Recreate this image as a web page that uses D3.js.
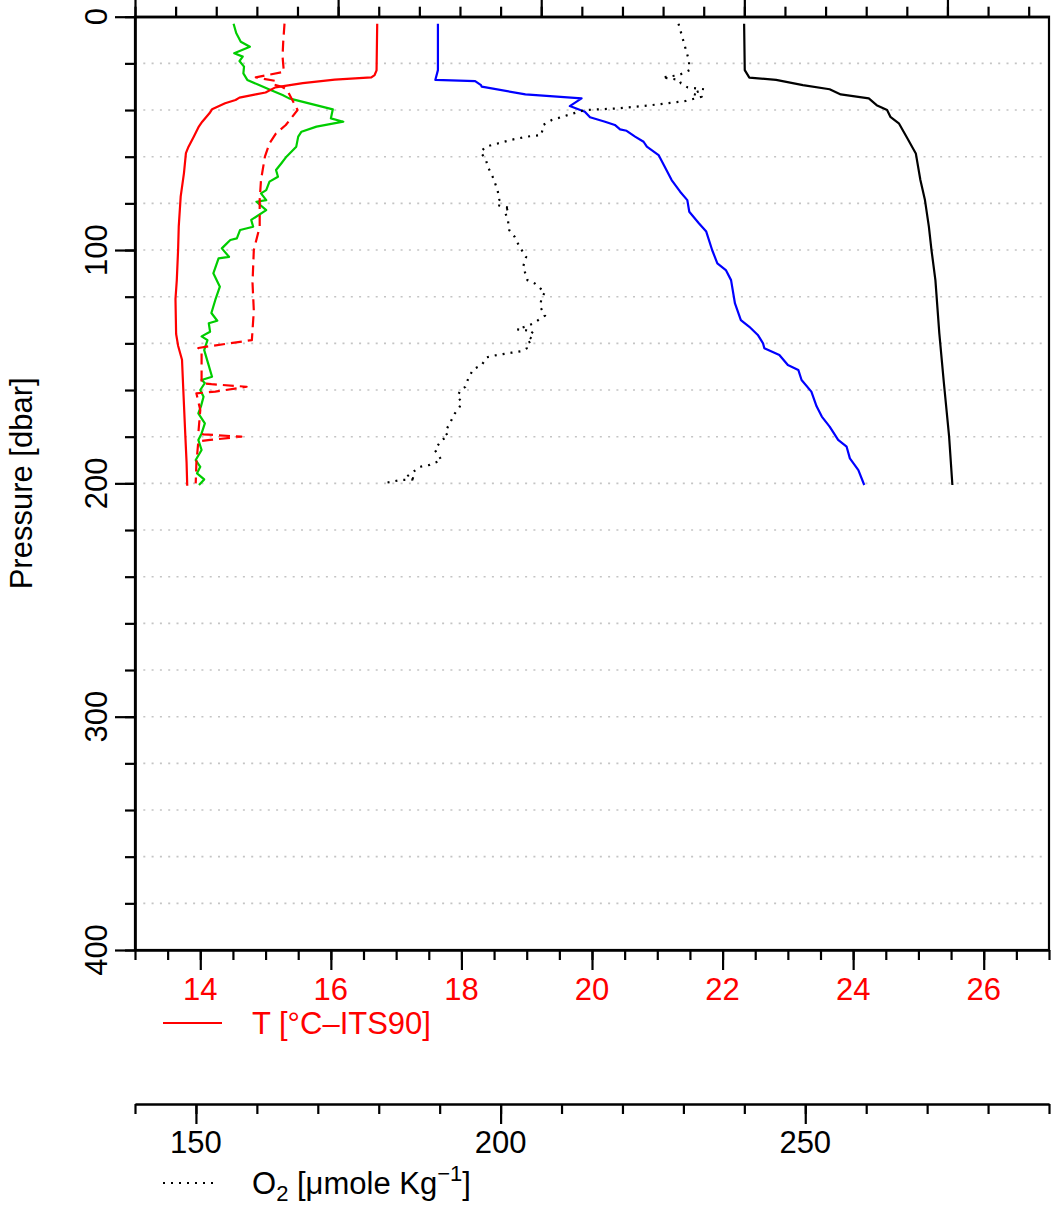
<!DOCTYPE html>
<html><head><meta charset="utf-8">
<script src="https://cdn.jsdelivr.net/npm/d3@7"></script>
<style>
html,body{margin:0;padding:0;background:#fff;}
svg{display:block;}
text{font-family:"Liberation Sans",Arial,Helvetica,sans-serif;}
</style></head>
<body>
<svg id="c" width="1061" height="1205"></svg>
<script>
// ---------- data ----------
// Temperature profile, red solid  [°C]
const tempP = [3,23,25,26,27,28.5,30.3,32.5,33.3,34.7,35.7,37.1,39.7,41.4,45,47,51.4,55.7,58.5,67,77,90,100,113,121,136,141,147,160,179,191,201];
const tempV = [16.71,16.70,16.67,16.62,16.06,15.57,15.15,15.00,14.85,14.60,14.54,14.38,14.18,14.14,14.03,13.98,13.90,13.82,13.78,13.75,13.70,13.67,13.66,13.64,13.62,13.63,13.66,13.72,13.74,13.77,13.79,13.80];
// Red dashed profile (bottom-axis units)
const dashP = [3,11,17,23.6,26,27.5,29,30,31.4,35.7,40,46.4,50,54.3,60,70,78.6,90,100,114,126,138.6,141.4,142,143,157,157.5,158.6,160.7,161.4,168.6,178.6,179,180,181.4,182,191.4,200];
const dashV = [15.29,15.27,15.26,15.28,14.85,15.15,15.12,15.25,15.33,15.41,15.49,15.31,15.16,15.06,14.99,14.93,14.91,14.91,14.82,14.80,14.82,14.79,14.10,13.97,14.02,14.02,14.17,14.71,14.23,13.94,14.00,13.97,14.05,14.63,14.15,13.97,13.94,13.93];
// Green profile (bottom-axis units)
const greenP = [3,7,10.7,12.9,15.7,17.1,19,21.4,24.3,27.1,29.3,31.1,33.6,35,39.7,43.6,45,47.1,49.3,51.4,55.7,60,62.9,65.7,68.6,70.7,74.3,75.7,78.6,79.3,82.9,87.1,90,91.4,95,95.7,97.9,99.3,102.9,103.6,110,115.7,121.4,127,130.3,131.4,135,137,138.6,142.9,148.6,154.3,155.7,157,160,162.9,167,170,174.3,178.6,181.4,185.7,190,192.9,195.7,198.3,200.7];
const greenV = [14.51,14.55,14.62,14.76,14.52,14.65,14.60,14.67,14.66,14.72,14.90,15.05,15.26,15.36,16.03,16.00,16.19,15.78,15.55,15.50,15.47,15.32,15.24,15.16,15.19,15.06,15.01,14.93,15.01,14.86,15.01,14.78,14.81,14.61,14.56,14.46,14.38,14.33,14.44,14.28,14.20,14.30,14.23,14.17,14.26,14.13,14.15,14.02,14.11,14.06,14.12,14.18,14.02,14.07,14.00,14.05,14.01,13.97,14.07,14.02,13.97,14.02,13.93,14.00,13.95,14.06,13.98];
// Blue profile (bottom-axis units)
const blueP = [3,22.9,27.1,27.6,29.3,30,33.3,35,38.3,40.7,43.1,45,46.4,48.3,48.9,51.4,53.6,55.7,59.3,63.6,70,75,78.6,83.6,88.6,92.1,100,105.7,108.6,112.9,122.9,130,132.9,136.4,140,142.1,145,149.3,151.4,155.7,160.7,167,171.4,175.7,181.4,184.3,189.3,194.3,200.7];
const blueV = [17.64,17.64,17.60,18.21,18.30,18.31,18.98,19.84,19.66,19.89,19.97,20.20,20.35,20.43,20.53,20.66,20.79,20.84,21.02,21.10,21.22,21.35,21.46,21.49,21.64,21.75,21.84,21.92,22.05,22.13,22.19,22.28,22.41,22.54,22.62,22.64,22.87,23.00,23.16,23.21,23.36,23.44,23.52,23.64,23.77,23.90,23.95,24.08,24.17];
// Black solid profile (bottom-axis units)
const blackP = [3,22.9,26.1,27.1,29.3,31.1,33.3,35,37.9,40,42.9,45.7,52.1,58.6,70,78.6,90,100,112.9,135.7,157,180,200.7];
const blackV = [22.33,22.34,22.41,22.82,23.23,23.64,23.81,24.24,24.36,24.52,24.57,24.70,24.83,24.96,25.03,25.10,25.16,25.20,25.26,25.32,25.39,25.47,25.52];
// Oxygen profile, black dotted [µmole/kg]
const oxyP = [3,11.4,18.6,22.9,25,26.1,26.5,27.1,28.6,30.3,31.1,33,34.3,36.1,37.9,39.3,40,42.1,44.3,46.4,50.7,51.4,52.8,55.7,57.9,61.4,64.3,68.6,74.3,78.6,80.7,82.1,82.9,87.1,91.4,94.3,98.6,102.9,107.1,112.9,114.3,116.4,117.9,120.7,124.3,128.1,130,131.4,132.6,134,134.3,135,137.1,138.6,140,142.1,143.3,144,145,146,149.3,151.1,155,158.6,160.7,162.9,165,167.1,170,173.6,177.9,180,181.4,185.7,190,192.1,192.9,195,197.1,198.3,198.6,199.3,200];
const oxyV = [229.2,230.1,230.9,231.0,229.3,226.5,227.9,229.3,229.6,230.7,233.4,231.5,233.0,230.4,224.8,219.3,213.8,211.1,208.4,207.0,206.7,204.3,201.7,197.6,196.7,197.6,197.9,198.7,199.5,199.8,199.4,201.7,200.6,201.2,201.4,202.3,203.1,204.2,203.7,204.4,205.6,206.5,207.3,206.7,206.5,207.3,206.2,205.4,204.3,202.7,204.0,205.3,204.6,205.4,204.3,204.3,203.5,201.8,199.4,197.7,196.9,195.5,194.7,194.2,193.3,192.9,193.6,193.3,192.5,191.8,190.9,191.4,190.3,189.2,190.3,188.4,186.8,185.7,184.6,186.2,183.5,182.1,180.7];

// axes / ticks
const presMajor = [0,100,200,300,400];
const presMinor = d3.range(0, 401, 20);
const presGrid = d3.range(20, 400, 20);
const tempMajor = [14,16,18,20,22,24,26];
const tempMinor = d3.range(13, 27.01, 0.5);
const oxyMajor = [150,200,250];
const oxyMinor = d3.range(140, 290.1, 10);
const topMajor = [0,1,2,3,4];
const topMinor = d3.range(0, 4.41, 0.2);

const presTitle = "Pressure [dbar]";
const tempLegend = "T [°C–ITS90]";

// ---------- drawing ----------
const svg = d3.select("#c");
const L = 135, R = 1049, T = 16.7, B = 950;
const x = d3.scaleLinear().domain([13,27]).range([L,R]);
const y = d3.scaleLinear().domain([0,400]).range([T,B]);
const xO = d3.scaleLinear().domain([140,290]).range([L,R]);
const xTop = d3.scaleLinear().domain([0,4.5]).range([L,R]);
const FS = 31;
const LW = 2.2;

// grid
svg.append("g").selectAll("line").data(presGrid).join("line")
  .attr("x1", L).attr("x2", R).attr("y1", d=>y(d)).attr("y2", d=>y(d))
  .attr("stroke", "#c4c4c4").attr("stroke-width", 1.6).attr("stroke-dasharray", "2,6.3");

function zip(P, V){ return P.map((p,i)=>({p:p, v:V[i]})); }
function prof(P, V, sx, color, dash){
  const line = d3.line().x(d=>sx(d.v)).y(d=>y(d.p));
  const path = svg.append("path").datum(zip(P,V)).attr("d", line)
    .attr("fill","none").attr("stroke", color).attr("stroke-width", LW)
    .attr("stroke-linejoin","round");
  if (dash) path.attr("stroke-dasharray", dash);
  return path;
}
prof(greenP, greenV, x, "#00cd00");
prof(dashP, dashV, x, "#ff0000", "11,6");
prof(tempP, tempV, x, "#ff0000");
prof(blueP, blueV, x, "#0000ff");
prof(blackP, blackV, x, "#000000");
prof(oxyP, oxyV, xO, "#000000", "2,6").attr("stroke-width", 2.2);

function styleAxis(g){
  g.selectAll("path.domain").attr("stroke-width", LW);
  g.selectAll(".tick line").attr("stroke-width", LW).attr("stroke","#000");
}

// box
svg.append("rect").attr("x", L).attr("y", T).attr("width", R-L).attr("height", B-T)
  .attr("fill","none").attr("stroke","#000").attr("stroke-width", LW);

// top axis (ticks only; labels fall outside the page)
svg.append("g").attr("transform",`translate(0,${T})`)
  .call(d3.axisTop(xTop).tickValues(topMinor).tickSize(10).tickSizeOuter(0).tickFormat(""))
  .call(styleAxis);
svg.append("g").attr("transform",`translate(0,${T})`)
  .call(d3.axisTop(xTop).tickValues(topMajor).tickSize(20).tickSizeOuter(0).tickFormat(""))
  .call(styleAxis);

// left axis
svg.append("g").attr("transform",`translate(${L},0)`)
  .call(d3.axisLeft(y).tickValues(presMinor).tickSize(10).tickSizeOuter(0).tickFormat(""))
  .call(styleAxis);
svg.append("g").attr("transform",`translate(${L},0)`)
  .call(d3.axisLeft(y).tickValues(presMajor).tickSize(20).tickSizeOuter(0).tickFormat(""))
  .call(styleAxis);
svg.append("g").selectAll("text").data(presMajor).join("text")
  .attr("transform", d=>`translate(107,${y(d)}) rotate(-90)`)
  .attr("text-anchor","middle").attr("font-size", FS).attr("fill","#000").text(d=>d);
svg.append("text").attr("transform", `translate(32,${(T+B)/2}) rotate(-90)`)
  .attr("text-anchor","middle").attr("font-size", FS).text(presTitle);

// bottom temperature axis
svg.append("g").attr("transform",`translate(0,${B})`)
  .call(d3.axisBottom(x).tickValues(tempMinor).tickSize(10).tickSizeOuter(0).tickFormat(""))
  .call(styleAxis);
svg.append("g").attr("transform",`translate(0,${B})`)
  .call(d3.axisBottom(x).tickValues(tempMajor).tickSize(20).tickSizeOuter(0).tickFormat(""))
  .call(styleAxis);
svg.append("g").selectAll("text").data(tempMajor).join("text")
  .attr("x", d=>x(d)).attr("y", 1000).attr("text-anchor","middle")
  .attr("font-size", FS).attr("fill","#ff0000").text(d=>d);
// T legend
svg.append("line").attr("x1",163).attr("x2",222).attr("y1",1023).attr("y2",1023)
  .attr("stroke","#ff0000").attr("stroke-width",LW);
svg.append("text").attr("x",252).attr("y",1034).attr("font-size",FS).attr("fill","#ff0000").text(tempLegend);

// oxygen axis
const OY = 1104;
svg.append("g").attr("transform",`translate(0,${OY})`)
  .call(d3.axisBottom(xO).tickValues(oxyMinor).tickSize(10).tickSizeOuter(0).tickFormat(""))
  .call(styleAxis);
svg.append("g").attr("transform",`translate(0,${OY})`)
  .call(d3.axisBottom(xO).tickValues(oxyMajor).tickSize(20).tickSizeOuter(0).tickFormat(""))
  .call(styleAxis);
svg.append("g").selectAll("text").data(oxyMajor).join("text")
  .attr("x", d=>xO(d)).attr("y", 1153).attr("text-anchor","middle")
  .attr("font-size", FS).attr("fill","#000").text(d=>d);
// O2 legend
svg.append("line").attr("x1",163).attr("x2",217).attr("y1",1183).attr("y2",1183)
  .attr("stroke","#000").attr("stroke-width",2).attr("stroke-dasharray","2,6");
const ot = svg.append("text").attr("x",252).attr("y",1194).attr("font-size",FS).attr("fill","#000");
ot.append("tspan").text("O");
ot.append("tspan").attr("font-size",22).attr("dy",7).text("2");
ot.append("tspan").attr("dy",-7).text(" [μmole Kg");
ot.append("tspan").attr("font-size",22).attr("dy",-13).text("−1");
ot.append("tspan").attr("dy",13).text("]");
</script>
</body></html>
